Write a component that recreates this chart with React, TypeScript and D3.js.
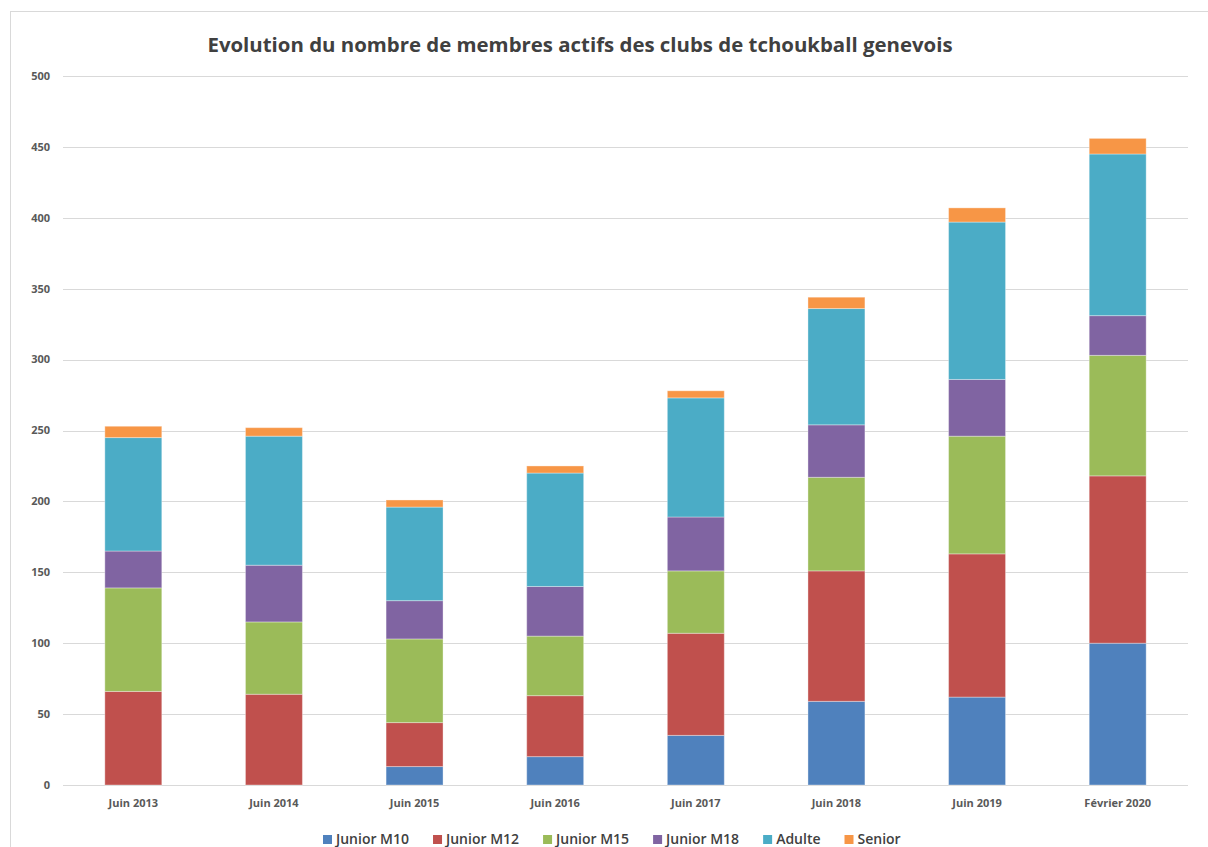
import React, { useEffect, useRef } from "react";
import * as d3 from "d3";

const categories = [
  "Juin 2013",
  "Juin 2014",
  "Juin 2015",
  "Juin 2016",
  "Juin 2017",
  "Juin 2018",
  "Juin 2019",
  "Février 2020",
];

const seriesNames = ["Junior M10", "Junior M12", "Junior M15", "Junior M18", "Adulte", "Senior"];

const juniorM10 = [0, 0, 13, 20, 35, 59, 62, 100];
const juniorM12 = [66, 64, 31, 43, 72, 92, 101, 118];
const juniorM15 = [73, 51, 59, 42, 44, 66, 83, 85];
const juniorM18 = [26, 40, 27, 35, 38, 37, 40, 28];
const adulte = [80, 91, 66, 80, 84, 82, 111, 114];
const senior = [8, 6, 5, 5, 5, 8, 10, 11];

const yTicks = [0, 50, 100, 150, 200, 250, 300, 350, 400, 450, 500];

const colors = ["#4F81BD", "#C0504D", "#9BBB59", "#8064A2", "#4BACC6", "#F79646"];

const App: React.FC = () => {
  const svgRef = useRef<SVGSVGElement>(null);

  useEffect(() => {
    const width = 1208;
    const height = 847;
    const margin = { top: 76, right: 20, bottom: 62, left: 63 };
    const font = "Open Sans, sans-serif";

    const svg = d3.select(svgRef.current);
    svg.selectAll("*").remove();
    svg.attr("width", width).attr("height", height);

    // chart frame
    svg
      .append("rect")
      .attr("x", 10.5)
      .attr("y", 11.5)
      .attr("width", width)
      .attr("height", height)
      .attr("fill", "white")
      .attr("stroke", "#d9d9d9");

    const rows = categories.map((c, i) => ({
      category: c,
      "Junior M10": juniorM10[i],
      "Junior M12": juniorM12[i],
      "Junior M15": juniorM15[i],
      "Junior M18": juniorM18[i],
      Adulte: adulte[i],
      Senior: senior[i],
    }));

    const x = d3
      .scaleBand()
      .domain(categories)
      .range([margin.left, width - margin.right])
      .paddingInner(0.595)
      .paddingOuter(0.2975);

    const y = d3
      .scaleLinear()
      .domain([0, 500])
      .range([height - margin.bottom, margin.top]);

    // gridlines
    svg
      .append("g")
      .selectAll("line")
      .data(yTicks)
      .join("line")
      .attr("x1", margin.left)
      .attr("x2", width - margin.right)
      .attr("y1", (d) => Math.round(y(d)) + 0.5)
      .attr("y2", (d) => Math.round(y(d)) + 0.5)
      .attr("stroke", "#d9d9d9")
      .attr("stroke-width", 1);

    // y labels
    svg
      .append("g")
      .selectAll("text")
      .data(yTicks)
      .join("text")
      .attr("x", 50)
      .attr("y", (d) => y(d))
      .attr("dy", "0.35em")
      .attr("text-anchor", "end")
      .attr("font-family", font)
      .attr("font-weight", "bold")
      .attr("font-size", 11)
      .attr("fill", "#595959")
      .text((d) => d);

    const stack = d3.stack<any>().keys(seriesNames);
    const stacked = stack(rows);

    svg
      .append("g")
      .selectAll("g")
      .data(stacked)
      .join("g")
      .attr("fill", (d, i) => colors[i])
      .selectAll("rect")
      .data((d) => d.filter((p) => p[1] - p[0] > 0))
      .join("rect")
      .attr("x", (d) => x(d.data.category) as number)
      .attr("width", x.bandwidth())
      .attr("y", (d) => y(d[1]))
      .attr("height", (d) => y(d[0]) - y(d[1]))
      .attr("stroke", "rgba(255,255,255,0.35)")
      .attr("stroke-width", 1);

    // x labels
    svg
      .append("g")
      .selectAll("text")
      .data(categories)
      .join("text")
      .attr("x", (d) => (x(d) as number) + x.bandwidth() / 2)
      .attr("y", 807)
      .attr("text-anchor", "middle")
      .attr("font-family", font)
      .attr("font-weight", "bold")
      .attr("font-size", 11)
      .attr("fill", "#595959")
      .text((d) => d);

    // title
    svg
      .append("text")
      .attr("x", 580)
      .attr("y", 52)
      .attr("text-anchor", "middle")
      .attr("font-family", font)
      .attr("font-weight", "bold")
      .attr("font-size", 20.4)
      .attr("fill", "#404040")
      .text("Evolution du nombre de membres actifs des clubs de tchoukball genevois");

    // legend, laid out left to right from measured text widths
    const legend = svg
      .append("g")
      .selectAll("g")
      .data(seriesNames)
      .join("g");
    legend
      .append("rect")
      .attr("width", 9)
      .attr("height", 9)
      .attr("fill", (d, i) => colors[i]);
    legend
      .append("text")
      .attr("x", 13)
      .attr("y", 9)
      .attr("font-family", font)
      .attr("font-weight", 600)
      .attr("font-size", 14)
      .attr("fill", "#404040")
      .text((d) => d);
    let cursor = 323;
    legend.each(function () {
      const g = d3.select(this);
      g.attr("transform", `translate(${cursor},835)`);
      const w = (g.select("text").node() as SVGTextElement).getComputedTextLength();
      cursor += 13 + w + 24;
    });
  }, []);

  return (
    <svg
      ref={svgRef}
      style={{ position: "absolute", left: 0, top: 0, display: "block" }}
    ></svg>
  );
};

export default App;
